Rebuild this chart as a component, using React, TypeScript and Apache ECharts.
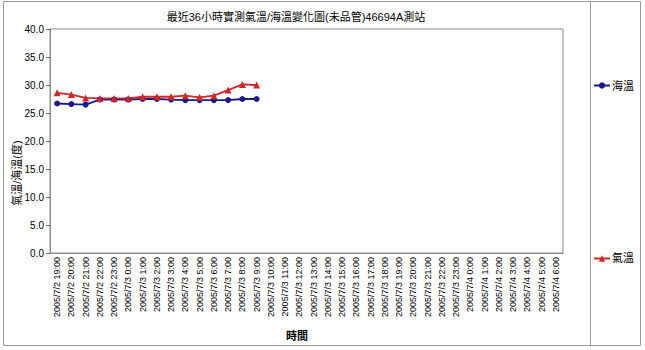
import React, { useEffect, useRef } from "react";
import * as echarts from "echarts";

const titleText = "最近36小時實測氣溫/海溫變化圖(未品管)46694A測站";
const yAxisTitle = "氣溫/海溫(度)";
const xAxisTitle = "時間";

const hours = [
  "2005/7/2 19:00", "2005/7/2 20:00", "2005/7/2 21:00", "2005/7/2 22:00", "2005/7/2 23:00",
  "2005/7/3 0:00", "2005/7/3 1:00", "2005/7/3 2:00", "2005/7/3 3:00", "2005/7/3 4:00",
  "2005/7/3 5:00", "2005/7/3 6:00", "2005/7/3 7:00", "2005/7/3 8:00", "2005/7/3 9:00",
  "2005/7/3 10:00", "2005/7/3 11:00", "2005/7/3 12:00", "2005/7/3 13:00", "2005/7/3 14:00",
  "2005/7/3 15:00", "2005/7/3 16:00", "2005/7/3 17:00", "2005/7/3 18:00", "2005/7/3 19:00",
  "2005/7/3 20:00", "2005/7/3 21:00", "2005/7/3 22:00", "2005/7/3 23:00", "2005/7/4 0:00",
  "2005/7/4 1:00", "2005/7/4 2:00", "2005/7/4 3:00", "2005/7/4 4:00", "2005/7/4 5:00",
  "2005/7/4 6:00",
];

const seaTemp = [26.7, 26.6, 26.5, 27.4, 27.4, 27.4, 27.5, 27.5, 27.4, 27.3, 27.3, 27.3, 27.3, 27.5, 27.5];
const airTemp = [28.6, 28.3, 27.7, 27.6, 27.6, 27.6, 27.9, 27.9, 27.9, 28.1, 27.8, 28.1, 29.1, 30.1, 30.0];

const seaName = "海溫";
const airName = "氣溫";

const FONT = '"Liberation Sans", Arial, "Noto Sans CJK TC", sans-serif';

export default function App() {
  const ref = useRef<HTMLDivElement>(null);
  useEffect(() => {
    if (!ref.current) return;
    const chart = echarts.init(ref.current, null, { renderer: "svg" });
    chart.setOption({
      animation: false,
      backgroundColor: "#ffffff",
      textStyle: { fontFamily: FONT },
      grid: { left: 50, top: 29, right: 82, bottom: 97, show: true, borderColor: "#8c8c8c", borderWidth: 1 },
      legend: {
        orient: "vertical",
        left: 591,
        top: 78,
        padding: 2,
        itemGap: 162,
        itemWidth: 16,
        itemHeight: 8,
        textStyle: { fontSize: 11, color: "#000", fontFamily: FONT, padding: [0, 0, 0, -3] },
        data: [seaName, airName],
      },
      xAxis: {
        type: "category",
        data: hours,
        boundaryGap: true,
        axisLine: { lineStyle: { color: "#8c8c8c" } },
        axisTick: { alignWithLabel: true, length: 4, lineStyle: { color: "#666" } },
        axisLabel: { rotate: 90, interval: 0, fontSize: 9, color: "#000", margin: 4, fontFamily: FONT },
      },
      yAxis: {
        type: "value",
        min: 0,
        max: 40,
        interval: 5,
        splitLine: { show: false },
        axisLine: { show: true, lineStyle: { color: "#8c8c8c" } },
        axisTick: { show: true, length: 4, lineStyle: { color: "#666" } },
        axisLabel: { fontSize: 10, color: "#000", margin: 6, formatter: (v: number) => v.toFixed(1), fontFamily: FONT },
      },
      series: [
        {
          name: seaName,
          type: "line",
          data: seaTemp,
          symbol: "circle",
          symbolSize: 6,
          color: "#1a1a8c",
          lineStyle: { width: 1.8, color: "#1a1a8c" },
          itemStyle: { color: "#1a1a8c" },
        },
        {
          name: airName,
          type: "line",
          data: airTemp,
          symbol: "triangle",
          symbolSize: 7,
          color: "#d02828",
          lineStyle: { width: 1.8, color: "#d02828" },
          itemStyle: { color: "#d02828" },
        },
      ],
      graphic: [
        { type: "rect", shape: { x: 3.5, y: 1.5, width: 637, height: 344 }, style: { fill: "none", stroke: "#9a9a9a", lineWidth: 1 }, silent: true },
        { type: "line", shape: { x1: 590.5, y1: 1.5, x2: 590.5, y2: 345.5 }, style: { stroke: "#9a9a9a", lineWidth: 1 }, silent: true },
        { type: "text", x: 296, y: 17, style: { text: titleText, fontSize: 11, fill: "#000", align: "center", verticalAlign: "middle", fontFamily: FONT } },
        { type: "text", x: 17, y: 173, rotation: Math.PI / 2, style: { text: yAxisTitle, fontSize: 11, fill: "#000", align: "center", verticalAlign: "middle", fontFamily: FONT } },
        { type: "text", x: 297, y: 336, style: { text: xAxisTitle, fontSize: 11, fontWeight: "bold", fill: "#000", align: "center", verticalAlign: "middle", fontFamily: FONT } },
      ],
    });
    return () => chart.dispose();
  }, []);
  return <div ref={ref} style={{ position: "fixed", left: 0, top: 0, width: 645, height: 350 }} />;
}
